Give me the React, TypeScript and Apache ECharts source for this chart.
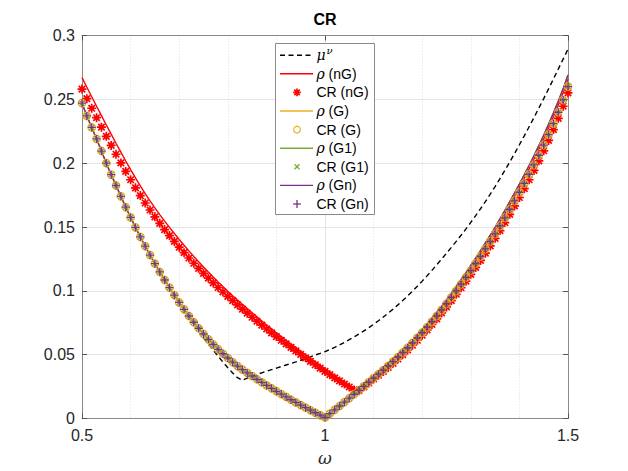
import React, { useEffect, useRef } from 'react';
import * as echarts from 'echarts';

const FONT = 'Liberation Sans, Arial, Helvetica, sans-serif';

const omega = [
  0.50, 0.51, 0.52, 0.53, 0.54, 0.55, 0.56, 0.57, 0.58, 0.59,
  0.60, 0.61, 0.62, 0.63, 0.64, 0.65, 0.66, 0.67, 0.68, 0.69,
  0.70, 0.71, 0.72, 0.73, 0.74, 0.75, 0.76, 0.77, 0.78, 0.79,
  0.80, 0.81, 0.82, 0.83, 0.84, 0.85, 0.86, 0.87, 0.88, 0.89,
  0.90, 0.91, 0.92, 0.93, 0.94, 0.95, 0.96, 0.97, 0.98, 0.99,
  1.00, 1.01, 1.02, 1.03, 1.04, 1.05, 1.06, 1.07, 1.08, 1.09,
  1.10, 1.11, 1.12, 1.13, 1.14, 1.15, 1.16, 1.17, 1.18, 1.19,
  1.20, 1.21, 1.22, 1.23, 1.24, 1.25, 1.26, 1.27, 1.28, 1.29,
  1.30, 1.31, 1.32, 1.33, 1.34, 1.35, 1.36, 1.37, 1.38, 1.39,
  1.40, 1.41, 1.42, 1.43, 1.44, 1.45, 1.46, 1.47, 1.48, 1.49,
  1.50,
];

const muNu = [
  null, null, null, null, null, null, null, null, null, null,
  null, null, null, null, null, null, null, null, null, null,
  null, null, null, null, null, 0.0632, 0.0583, 0.0535, 0.0488, 0.0442,
  0.0398, 0.0357, 0.0320, 0.0300, 0.0316, 0.0331, 0.0345, 0.0358, 0.0371, 0.0383,
  0.0395, 0.0407, 0.0419, 0.0431, 0.0443, 0.0456, 0.0469, 0.0483, 0.0497, 0.0510,
  0.0524, 0.0540, 0.0557, 0.0576, 0.0596, 0.0617, 0.0639, 0.0662, 0.0686, 0.0711,
  0.0738, 0.0766, 0.0795, 0.0825, 0.0857, 0.0890, 0.0924, 0.0960, 0.0997, 0.1036,
  0.1076, 0.1117, 0.1160, 0.1204, 0.1249, 0.1294, 0.1340, 0.1387, 0.1435, 0.1485,
  0.1536, 0.1589, 0.1643, 0.1699, 0.1757, 0.1817, 0.1879, 0.1943, 0.2008, 0.2075,
  0.2144, 0.2214, 0.2285, 0.2357, 0.2431, 0.2506, 0.2582, 0.2659, 0.2737, 0.2815,
  0.2893,
];

const rhoNG = [
  0.2670, 0.2595, 0.2520, 0.2446, 0.2372, 0.2299, 0.2227, 0.2156, 0.2086, 0.2017,
  0.1950, 0.1885, 0.1822, 0.1762, 0.1705, 0.1650, 0.1597, 0.1546, 0.1497, 0.1449,
  0.1402, 0.1357, 0.1313, 0.1270, 0.1228, 0.1187, 0.1147, 0.1108, 0.1070, 0.1033,
  0.0997, 0.0962, 0.0928, 0.0894, 0.0861, 0.0828, 0.0796, 0.0764, 0.0733, 0.0702,
  0.0672, 0.0642, 0.0613, 0.0584, 0.0555, 0.0527, 0.0499, 0.0471, 0.0443, 0.0416,
  0.0389, 0.0362, 0.0336, 0.0310, 0.0284, 0.0259, 0.0234, 0.0219, 0.0247, 0.0279,
  0.0311, 0.0344, 0.0378, 0.0412, 0.0448, 0.0485, 0.0522, 0.0561, 0.0600, 0.0641,
  0.0683, 0.0726, 0.0772, 0.0818, 0.0866, 0.0915, 0.0967, 0.1019, 0.1072, 0.1126,
  0.1180, 0.1237, 0.1295, 0.1354, 0.1414, 0.1475, 0.1539, 0.1605, 0.1672, 0.1741,
  0.1811, 0.1882, 0.1955, 0.2031, 0.2109, 0.2190, 0.2275, 0.2363, 0.2455, 0.2552,
  0.2660,
];

const crNG = [
  0.2580, 0.2505, 0.2430, 0.2356, 0.2282, 0.2210, 0.2139, 0.2070, 0.2002, 0.1935,
  0.1870, 0.1807, 0.1746, 0.1688, 0.1633, 0.1580, 0.1529, 0.1480, 0.1433, 0.1387,
  0.1342, 0.1299, 0.1257, 0.1216, 0.1176, 0.1137, 0.1099, 0.1062, 0.1026, 0.0991,
  0.0957, 0.0923, 0.0890, 0.0857, 0.0825, 0.0793, 0.0762, 0.0731, 0.0701, 0.0671,
  0.0642, 0.0613, 0.0585, 0.0557, 0.0529, 0.0502, 0.0475, 0.0448, 0.0421, 0.0395,
  0.0369, 0.0343, 0.0318, 0.0294, 0.0270, 0.0247, 0.0224, 0.0218, 0.0248, 0.0279,
  0.0310, 0.0339, 0.0369, 0.0400, 0.0432, 0.0466, 0.0501, 0.0537, 0.0574, 0.0613,
  0.0653, 0.0694, 0.0737, 0.0781, 0.0827, 0.0874, 0.0923, 0.0973, 0.1024, 0.1076,
  0.1129, 0.1183, 0.1238, 0.1295, 0.1352, 0.1411, 0.1472, 0.1535, 0.1599, 0.1665,
  0.1731, 0.1800, 0.1870, 0.1943, 0.2018, 0.2097, 0.2178, 0.2263, 0.2351, 0.2446,
  0.2550,
];

const rhoG = [
  0.2470, 0.2370, 0.2280, 0.2190, 0.2095, 0.2000, 0.1910, 0.1825, 0.1740, 0.1655,
  0.1575, 0.1497, 0.1422, 0.1350, 0.1280, 0.1213, 0.1148, 0.1085, 0.1025, 0.0966,
  0.0909, 0.0855, 0.0803, 0.0754, 0.0707, 0.0662, 0.0620, 0.0580, 0.0542, 0.0507,
  0.0474, 0.0441, 0.0410, 0.0383, 0.0357, 0.0332, 0.0307, 0.0283, 0.0259, 0.0236,
  0.0213, 0.0191, 0.0169, 0.0147, 0.0126, 0.0105, 0.0085, 0.0065, 0.0045, 0.0026,
  0.0008, 0.0038, 0.0068, 0.0098, 0.0128, 0.0159, 0.0190, 0.0221, 0.0252, 0.0284,
  0.0316, 0.0349, 0.0383, 0.0418, 0.0454, 0.0491, 0.0529, 0.0568, 0.0608, 0.0650,
  0.0693, 0.0737, 0.0783, 0.0830, 0.0879, 0.0929, 0.0981, 0.1034, 0.1088, 0.1143,
  0.1199, 0.1256, 0.1315, 0.1375, 0.1436, 0.1498, 0.1563, 0.1629, 0.1697, 0.1766,
  0.1836, 0.1908, 0.1982, 0.2058, 0.2137, 0.2219, 0.2304, 0.2392, 0.2484, 0.2582,
  0.2690,
];

const crG = [
  0.2470, 0.2370, 0.2280, 0.2190, 0.2095, 0.2000, 0.1910, 0.1825, 0.1740, 0.1655,
  0.1575, 0.1497, 0.1422, 0.1350, 0.1280, 0.1213, 0.1148, 0.1085, 0.1025, 0.0966,
  0.0909, 0.0855, 0.0803, 0.0754, 0.0707, 0.0662, 0.0620, 0.0580, 0.0542, 0.0507,
  0.0474, 0.0441, 0.0410, 0.0383, 0.0357, 0.0332, 0.0307, 0.0283, 0.0259, 0.0236,
  0.0213, 0.0191, 0.0169, 0.0147, 0.0126, 0.0105, 0.0085, 0.0065, 0.0045, 0.0026,
  0.0008, 0.0038, 0.0068, 0.0098, 0.0128, 0.0159, 0.0190, 0.0221, 0.0252, 0.0284,
  0.0316, 0.0347, 0.0379, 0.0412, 0.0446, 0.0481, 0.0517, 0.0554, 0.0592, 0.0632,
  0.0673, 0.0715, 0.0759, 0.0804, 0.0851, 0.0899, 0.0949, 0.1000, 0.1052, 0.1105,
  0.1159, 0.1214, 0.1270, 0.1328, 0.1386, 0.1446, 0.1508, 0.1572, 0.1637, 0.1704,
  0.1771, 0.1841, 0.1912, 0.1986, 0.2062, 0.2142, 0.2224, 0.2310, 0.2399, 0.2495,
  0.2600,
];

// G1 and Gn variants coincide with G in the picture
const rhoG1 = rhoG;
const crG1 = crG;
const rhoGn = rhoG;
const crGn = crG;

const xTicks = [0.5, 1, 1.5];
const yTicks = [0, 0.05, 0.1, 0.15, 0.2, 0.25, 0.3];

const C_RED = '#FF0000';
const C_ORANGE = '#EDB120';
const C_GREEN = '#77AC30';
const C_PURPLE = '#7E2F8E';

const SYM_ASTER = 'path://M0,-1L0,1M-1,0L1,0M-0.72,-0.72L0.72,0.72M-0.72,0.72L0.72,-0.72';
const SYM_X = 'path://M-1,-1L1,1M-1,1L1,-1';
const SYM_PLUS = 'path://M0,-1L0,1M-1,0L1,0';

function pairs(vals: (number | null)[]) {
  return omega.map((w, i) => [w, vals[i]]);
}

function lineSeries(name: string, vals: (number | null)[], color: string, dashed = false) {
  return {
    name,
    type: 'line',
    data: pairs(vals),
    showSymbol: false,
    symbol: 'none',
    connectNulls: false,
    lineStyle: { color, width: dashed ? 1.4 : 1.4, type: dashed ? [5, 3.5] : 'solid' },
    itemStyle: { color },
    z: 2,
  };
}

function scatterSeries(name: string, vals: (number | null)[], color: string, symbol: string, size: number, bw: number) {
  return {
    name,
    type: 'scatter',
    data: pairs(vals),
    symbol,
    symbolSize: size,
    itemStyle: { color: symbol === 'circle' ? 'rgba(0,0,0,0)' : color, borderColor: color, borderWidth: bw, opacity: 1 },
    z: 3,
  };
}

// Legend drawn with graphic elements
const LG = { x: 275.5, y: 43.5, w: 99, h: 171, row0: 55.2, dy: 18.6, lx1: 280, lx2: 313, mx: 297, tx: 316.5 };

function legendGraphic() {
  const els: any[] = [];
  els.push({
    type: 'rect',
    shape: { x: LG.x, y: LG.y, width: LG.w, height: LG.h },
    style: { fill: '#ffffff', stroke: '#8a8a8a', lineWidth: 1 },
    z: 100,
  });
  const rows = [
    { text: '{i|μ}{s|ν}', kind: 'line', color: '#000000', dashed: true },
    { text: '{i|ρ} (nG)', kind: 'line', color: C_RED },
    { text: 'CR (nG)', kind: 'aster', color: C_RED },
    { text: '{i|ρ} (G)', kind: 'line', color: C_ORANGE },
    { text: 'CR (G)', kind: 'circle', color: C_ORANGE },
    { text: '{i|ρ} (G1)', kind: 'line', color: C_GREEN },
    { text: 'CR (G1)', kind: 'x', color: C_GREEN },
    { text: '{i|ρ} (Gn)', kind: 'line', color: C_PURPLE },
    { text: 'CR (Gn)', kind: 'plus', color: C_PURPLE },
  ];
  rows.forEach((r: any, i) => {
    const y = LG.row0 + i * LG.dy;
    if (r.kind === 'line') {
      els.push({
        type: 'line',
        shape: { x1: LG.lx1, y1: y, x2: LG.lx2, y2: y },
        style: { stroke: r.color, lineWidth: r.dashed ? 1.4 : 1.4, lineDash: r.dashed ? [5, 3.5] : null },
        z: 101,
      });
    } else if (r.kind === 'circle') {
      els.push({
        type: 'circle',
        shape: { cx: LG.mx, cy: y, r: 3.4 },
        style: { fill: 'none', stroke: r.color, lineWidth: 1.2 },
        z: 101,
      });
    } else {
      const segs: number[][] = [];
      if (r.kind === 'aster') {
        const a = 3.8, b = 2.7;
        segs.push([0, -a, 0, a], [-a, 0, a, 0], [-b, -b, b, b], [-b, b, b, -b]);
      } else if (r.kind === 'x') {
        const a = 2.5;
        segs.push([-a, -a, a, a], [-a, a, a, -a]);
      } else {
        const a = 3.9;
        segs.push([0, -a, 0, a], [-a, 0, a, 0]);
      }
      segs.forEach((s) => {
        els.push({
          type: 'line',
          shape: { x1: LG.mx + s[0], y1: y + s[1], x2: LG.mx + s[2], y2: y + s[3] },
          style: { stroke: r.color, lineWidth: r.kind === 'aster' ? 1.7 : 1.3 },
          z: 101,
        });
      });
    }
    els.push({
      type: 'text',
      x: LG.tx,
      y,
      style: {
        text: r.text,
        fill: '#000000',
        fontSize: 14,
        fontFamily: FONT,
        verticalAlign: 'middle',
        align: 'left',
        rich: {
          i: { fontStyle: 'italic', fontSize: 14, fontFamily: 'DejaVu Serif, Liberation Serif, serif' },
          s: { fontStyle: 'italic', fontSize: 10, fontFamily: 'DejaVu Serif, Liberation Serif, serif', padding: [0, 0, 9, 1] },
        },
      },
      z: 101,
    });
  });
  return els;
}

function fmt(v: number) {
  return String(Number(v.toFixed(2)));
}

export default function App() {
  const ref = useRef<HTMLDivElement>(null);

  useEffect(() => {
    if (!ref.current) return;
    const chart = echarts.init(ref.current, null, { renderer: 'svg' });
    const axisCommon = {
      axisLine: { show: true, onZero: false, lineStyle: { color: '#8a8a8a', width: 1 } },
      axisTick: { show: true, inside: true, length: 5, lineStyle: { color: '#555555', width: 1 } },
    };
    const option: any = {
      animation: false,
      backgroundColor: '#ffffff',
      grid: { left: 82, right: 60, top: 35.5, bottom: 52.5, containLabel: false, show: false },
      xAxis: [
        {
          type: 'value',
          min: xTicks[0],
          max: xTicks[xTicks.length - 1],
          interval: 0.5,
          position: 'bottom',
          ...axisCommon,
          axisLabel: { fontSize: 16, color: '#262626', margin: 9, fontFamily: FONT, formatter: (v: number) => fmt(v) },
          splitLine: { show: true, lineStyle: { color: '#e4e4e4', width: 1 } },
          minorTick: { show: true, splitNumber: 5, length: 0, lineStyle: { width: 0 } },
          minorSplitLine: { show: true, lineStyle: { color: '#dcdcdc', width: 1, type: [1, 2] } },
        },
        {
          type: 'value',
          min: xTicks[0],
          max: xTicks[xTicks.length - 1],
          interval: 0.5,
          position: 'top',
          ...axisCommon,
          axisLabel: { show: false },
          splitLine: { show: false },
        },
      ],
      yAxis: [
        {
          type: 'value',
          min: yTicks[0],
          max: yTicks[yTicks.length - 1],
          interval: 0.05,
          position: 'left',
          ...axisCommon,
          axisLabel: { fontSize: 16, color: '#262626', margin: 7, fontFamily: FONT, formatter: (v: number) => fmt(v) },
          splitLine: { show: true, lineStyle: { color: '#e4e4e4', width: 1 } },
        },
        {
          type: 'value',
          min: yTicks[0],
          max: yTicks[yTicks.length - 1],
          interval: 0.05,
          position: 'right',
          ...axisCommon,
          axisLabel: { show: false },
          splitLine: { show: false },
        },
      ],
      series: [
        lineSeries('μν', muNu, '#000000', true),
        lineSeries('ρ (nG)', rhoNG, C_RED),
        scatterSeries('CR (nG)', crNG, C_RED, SYM_ASTER, 9, 1.7),
        lineSeries('ρ (G)', rhoG, C_ORANGE),
        scatterSeries('CR (G)', crG, C_ORANGE, 'circle', 7.5, 1.3),
        lineSeries('ρ (G1)', rhoG1, C_GREEN),
        scatterSeries('CR (G1)', crG1, C_GREEN, SYM_X, 5, 1.3),
        lineSeries('ρ (Gn)', rhoGn, C_PURPLE),
        scatterSeries('CR (Gn)', crGn, C_PURPLE, SYM_PLUS, 8, 1.3),
      ],
      graphic: [
        {
          type: 'text',
          x: 325,
          y: 19,
          style: { text: 'CR', fontSize: 16, fontWeight: 'bold', fontFamily: FONT, fill: '#000000', align: 'center', verticalAlign: 'middle' },
          z: 100,
        },
        {
          type: 'text',
          x: 325,
          y: 458,
          style: { text: 'ω', fontSize: 17, fontStyle: 'italic', fontFamily: 'DejaVu Serif, Liberation Serif, serif', fill: '#262626', align: 'center', verticalAlign: 'middle' },
          z: 100,
        },
        ...legendGraphic(),
      ],
    };
    chart.setOption(option);
    return () => chart.dispose();
  }, []);

  return (
    <div
      ref={ref}
      style={{ position: 'fixed', left: 0, top: 0, width: 628, height: 471, background: '#ffffff' }}
    />
  );
}
